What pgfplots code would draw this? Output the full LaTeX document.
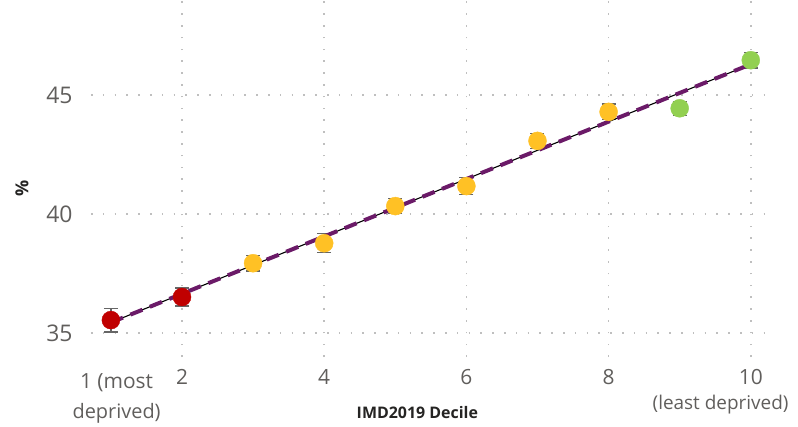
\documentclass[border=0pt]{standalone}
\usepackage{pgfplots}
\pgfplotsset{compat=1.18}
\usepackage{fontspec}
\setmainfont{Open Sans}
\definecolor{ticktxt}{HTML}{605E5C}
\definecolor{titletxt}{HTML}{252423}
\definecolor{cred}{HTML}{C00000}
\definecolor{cyel}{HTML}{FFC125}
\definecolor{cgrn}{HTML}{92D050}
\definecolor{cpur}{HTML}{6B1A68}
\definecolor{errc}{HTML}{666666}
\begin{document}
\begin{tikzpicture}
\begin{axis}[
  scale only axis,
  width=674bp, height=357bp,
  xmin=0.72, xmax=10.2,
  ymin=34, ymax=49,
  xtick={2,4,6,8,10},
  ytick={35,40,45},
  axis line style={draw=none},
  major tick style={draw=none},
  grid=major,
  major grid style={gray!50, line width=1.6bp, dash pattern=on 1.6bp off 10.2bp},
  /pgf/number format/assume math mode=true,
  yticklabel style={font=\fontsize{23}{26}\selectfont, text=ticktxt, xshift=-15bp},
  xticklabel style={font=\fontsize{21}{24}\selectfont, text=ticktxt, yshift=-9bp},
  clip=false,
  every axis plot/.append style={
    error bars/error bar style={errc, line width=1.2bp},
    error bars/error mark options={rotate=90, mark size=7bp, errc, line width=1.2bp}},
]
\addplot[only marks, mark=*, mark size=9bp, color=cred,
  error bars/.cd, y dir=both, y explicit]
  coordinates {(1,35.55) +- (0,0.5) (2,36.52) +- (0,0.38)};
\addplot[only marks, mark=*, mark size=9bp, color=cyel,
  error bars/.cd, y dir=both, y explicit]
  coordinates {(3,37.94) +- (0,0.33) (4,38.78) +- (0,0.4) (5,40.34) +- (0,0.32)
               (6,41.18) +- (0,0.35) (7,43.08) +- (0,0.32) (8,44.3) +- (0,0.33)};
\addplot[only marks, mark=*, mark size=9bp, color=cgrn,
  error bars/.cd, y dir=both, y explicit]
  coordinates {(9,44.45) +- (0,0.3) (10,46.47) +- (0,0.33)};
\addplot[black, line width=1.1bp] coordinates {(1,35.45) (10,46.3)};
\addplot[cpur, line width=4bp, dash pattern=on 13bp off 8bp] coordinates {(1,35.45) (10,46.3)};
\node[font=\fontsize{21}{24}\selectfont, text=ticktxt, anchor=base] at (axis cs:1.08,34) [yshift=-31bp] {1 (most};
\node[font=\fontsize{20}{23}\selectfont, text=ticktxt, anchor=base] at (axis cs:1.08,34) [yshift=-61bp] {deprived)};
\node[font=\fontsize{19}{22}\selectfont, text=ticktxt, anchor=base east] at (axis cs:10.2,34) [xshift=27bp, yshift=-52bp] {(least deprived)};
\node[font=\fontsize{16}{19}\selectfont\bfseries, text=titletxt, anchor=base] at (axis cs:5.31,34) [yshift=-61bp] {IMD2019 Decile};
\node[font=\fontsize{18}{21}\selectfont\bfseries, text=titletxt, rotate=90, anchor=center] at (axis cs:-0.25,41.1) {\%};
\end{axis}
\pgfresetboundingbox
\path[use as bounding box] (-91bp,-70bp) rectangle (707bp,357bp);
\end{tikzpicture}
\end{document}
